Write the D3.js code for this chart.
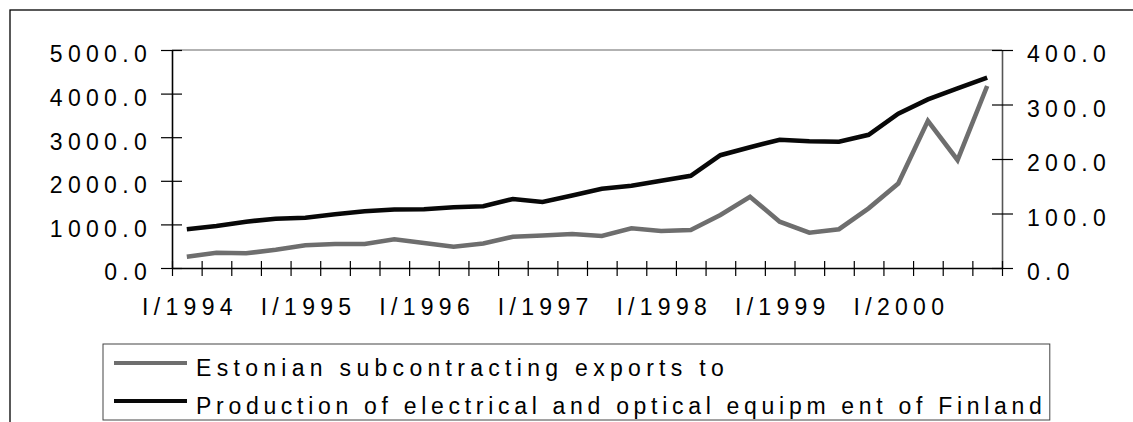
<!DOCTYPE html>
<head>
  <meta charset="utf-8">
  <script src="https://d3js.org/d3.v7.min.js"></script>
  <style>
    body { margin:0; background:#fff; }
    text { font-family: "Liberation Sans", Arial, sans-serif; }
  </style>
</head>
<body>
<svg width="1133" height="422" id="vis"></svg>
<script>
// quarters I/1994 .. IV/2000
var quarters = ["I/1994","II/1994","III/1994","IV/1994",
                "I/1995","II/1995","III/1995","IV/1995",
                "I/1996","II/1996","III/1996","IV/1996",
                "I/1997","II/1997","III/1997","IV/1997",
                "I/1998","II/1998","III/1998","IV/1998",
                "I/1999","II/1999","III/1999","IV/1999",
                "I/2000","II/2000","III/2000","IV/2000"];
var estExports = [259,351,337,420,521,550,550,658,573,489,562,718,745,780,
                  734,911,849,872,1216,1635,1062,810,890,1369,1938,3376,2477,4174];
var finProduction = [71.0,77.1,85.0,90.5,92.3,98.5,104.0,107.3,107.7,111.4,113.4,126.6,121.1,133.0,
                     145.3,150.8,160.0,169.2,207.0,221.5,235.4,232.5,231.6,244.4,283.1,309.5,329.7,349.2];
var leftTicks = [0,1000,2000,3000,4000,5000];
var rightTicks = [0,100,200,300,400];
var xLabels = ["I/1994","I/1995","I/1996","I/1997","I/1998","I/1999","I/2000"];
var seriesNames = ["Estonian subcontracting exports to",
                   "Production of electrical and optical equipm ent of Finland"];

var svg = d3.select("#vis"),
    plot = {left: 172, right: 1002, top: 50, bottom: 268},
    ls = 5.3;

var x = d3.scaleLinear().domain([0, quarters.length]).range([plot.left, plot.right]),
    yL = d3.scaleLinear().domain([0, 5000]).range([plot.bottom, plot.top]),
    yR = d3.scaleLinear().domain([0, 400]).range([plot.bottom, plot.top]);

// outer frame
svg.append("rect").attr("x", 10).attr("y", 10).attr("width", 1130).attr("height", 500)
  .attr("fill", "none").attr("stroke", "#000").attr("stroke-width", 1.3);

// plot top border
svg.append("line").attr("x1", plot.left).attr("x2", plot.right)
  .attr("y1", plot.top).attr("y2", plot.top)
  .attr("stroke", "#999").attr("stroke-width", 1.5);

function styleAxis(g, col) {
  g.select(".domain").attr("stroke", col).attr("stroke-width", 1.6);
  g.selectAll(".tick line").attr("stroke", "#000").attr("stroke-width", 1.2);
  g.selectAll(".tick text").attr("font-size", 23).attr("fill", "#000")
    .style("letter-spacing", ls + "px");
}

var gl = svg.append("g").attr("transform", "translate(" + plot.left + ",0)")
  .call(d3.axisLeft(yL).tickValues(leftTicks).tickSizeInner(11).tickSizeOuter(0)
        .tickPadding(9).tickFormat(d3.format(".1f")));
gl.selectAll(".tick line").attr("x2", -11).attr("x1", 10);
gl.selectAll(".tick text").attr("dy", "0.52em");
styleAxis(gl, "#000");

var gr = svg.append("g").attr("transform", "translate(" + plot.right + ",0)")
  .call(d3.axisRight(yR).tickValues(rightTicks).tickSizeInner(11).tickSizeOuter(0)
        .tickPadding(14).tickFormat(d3.format(".1f")));
gr.selectAll(".tick line").attr("x1", -10);
gr.selectAll(".tick text").attr("dy", "0.52em");
styleAxis(gr, "#555");

var gx = svg.append("g").attr("transform", "translate(0," + plot.bottom + ")")
  .call(d3.axisBottom(x).tickValues(d3.range(quarters.length + 1)).tickSizeInner(8)
        .tickSizeOuter(0).tickFormat(""));
gx.selectAll(".tick line").attr("y1", -7);
styleAxis(gx, "#000");

var gxl = svg.append("g").attr("transform", "translate(0," + plot.bottom + ")")
  .call(d3.axisBottom(x).tickValues(xLabels.map(function(l) { return quarters.indexOf(l) + 0.5; }))
        .tickSize(0).tickPadding(31).tickFormat(function(v) { return quarters[v - 0.5]; }));
gxl.select(".domain").remove();
styleAxis(gxl, "#000");
gxl.selectAll(".tick text").attr("dx", ls / 2);

// lines
var lineL = d3.line().x(function(d, i) { return x(i + 0.5); }).y(function(d) { return yL(d); });
var lineR = d3.line().x(function(d, i) { return x(i + 0.5); }).y(function(d) { return yR(d); });

svg.append("path").datum(estExports).attr("d", lineL)
  .attr("fill", "none").attr("stroke", "#6e6e6e").attr("stroke-width", 4.6)
  .attr("stroke-linejoin", "miter");
svg.append("path").datum(finProduction).attr("d", lineR)
  .attr("fill", "none").attr("stroke", "#080808").attr("stroke-width", 4.6)
  .attr("stroke-linejoin", "miter");

// legend
var leg = svg.append("g");
var legBox = leg.append("rect").attr("x", 103).attr("y", 344).attr("height", 76)
  .attr("fill", "#fff").attr("stroke", "#444").attr("stroke-width", 1);
var legColors = ["#6e6e6e", "#080808"],
    legSpacing = [ls, 4.7],
    textRight = 0;
seriesNames.forEach(function(name, i) {
  var base = 376 + i * 38;
  leg.append("line").attr("x1", 114).attr("x2", 187)
    .attr("y1", base - 13).attr("y2", base - 13)
    .attr("stroke", legColors[i]).attr("stroke-width", 3.8);
  var t = leg.append("text").attr("x", 196).attr("y", base).text(name)
    .attr("font-size", 23).style("letter-spacing", legSpacing[i] + "px");
  var bb = t.node().getBBox();
  textRight = Math.max(textRight, bb.x + bb.width - legSpacing[i]);
});
legBox.attr("width", textRight + 8 - 103);
</script>
</body>
